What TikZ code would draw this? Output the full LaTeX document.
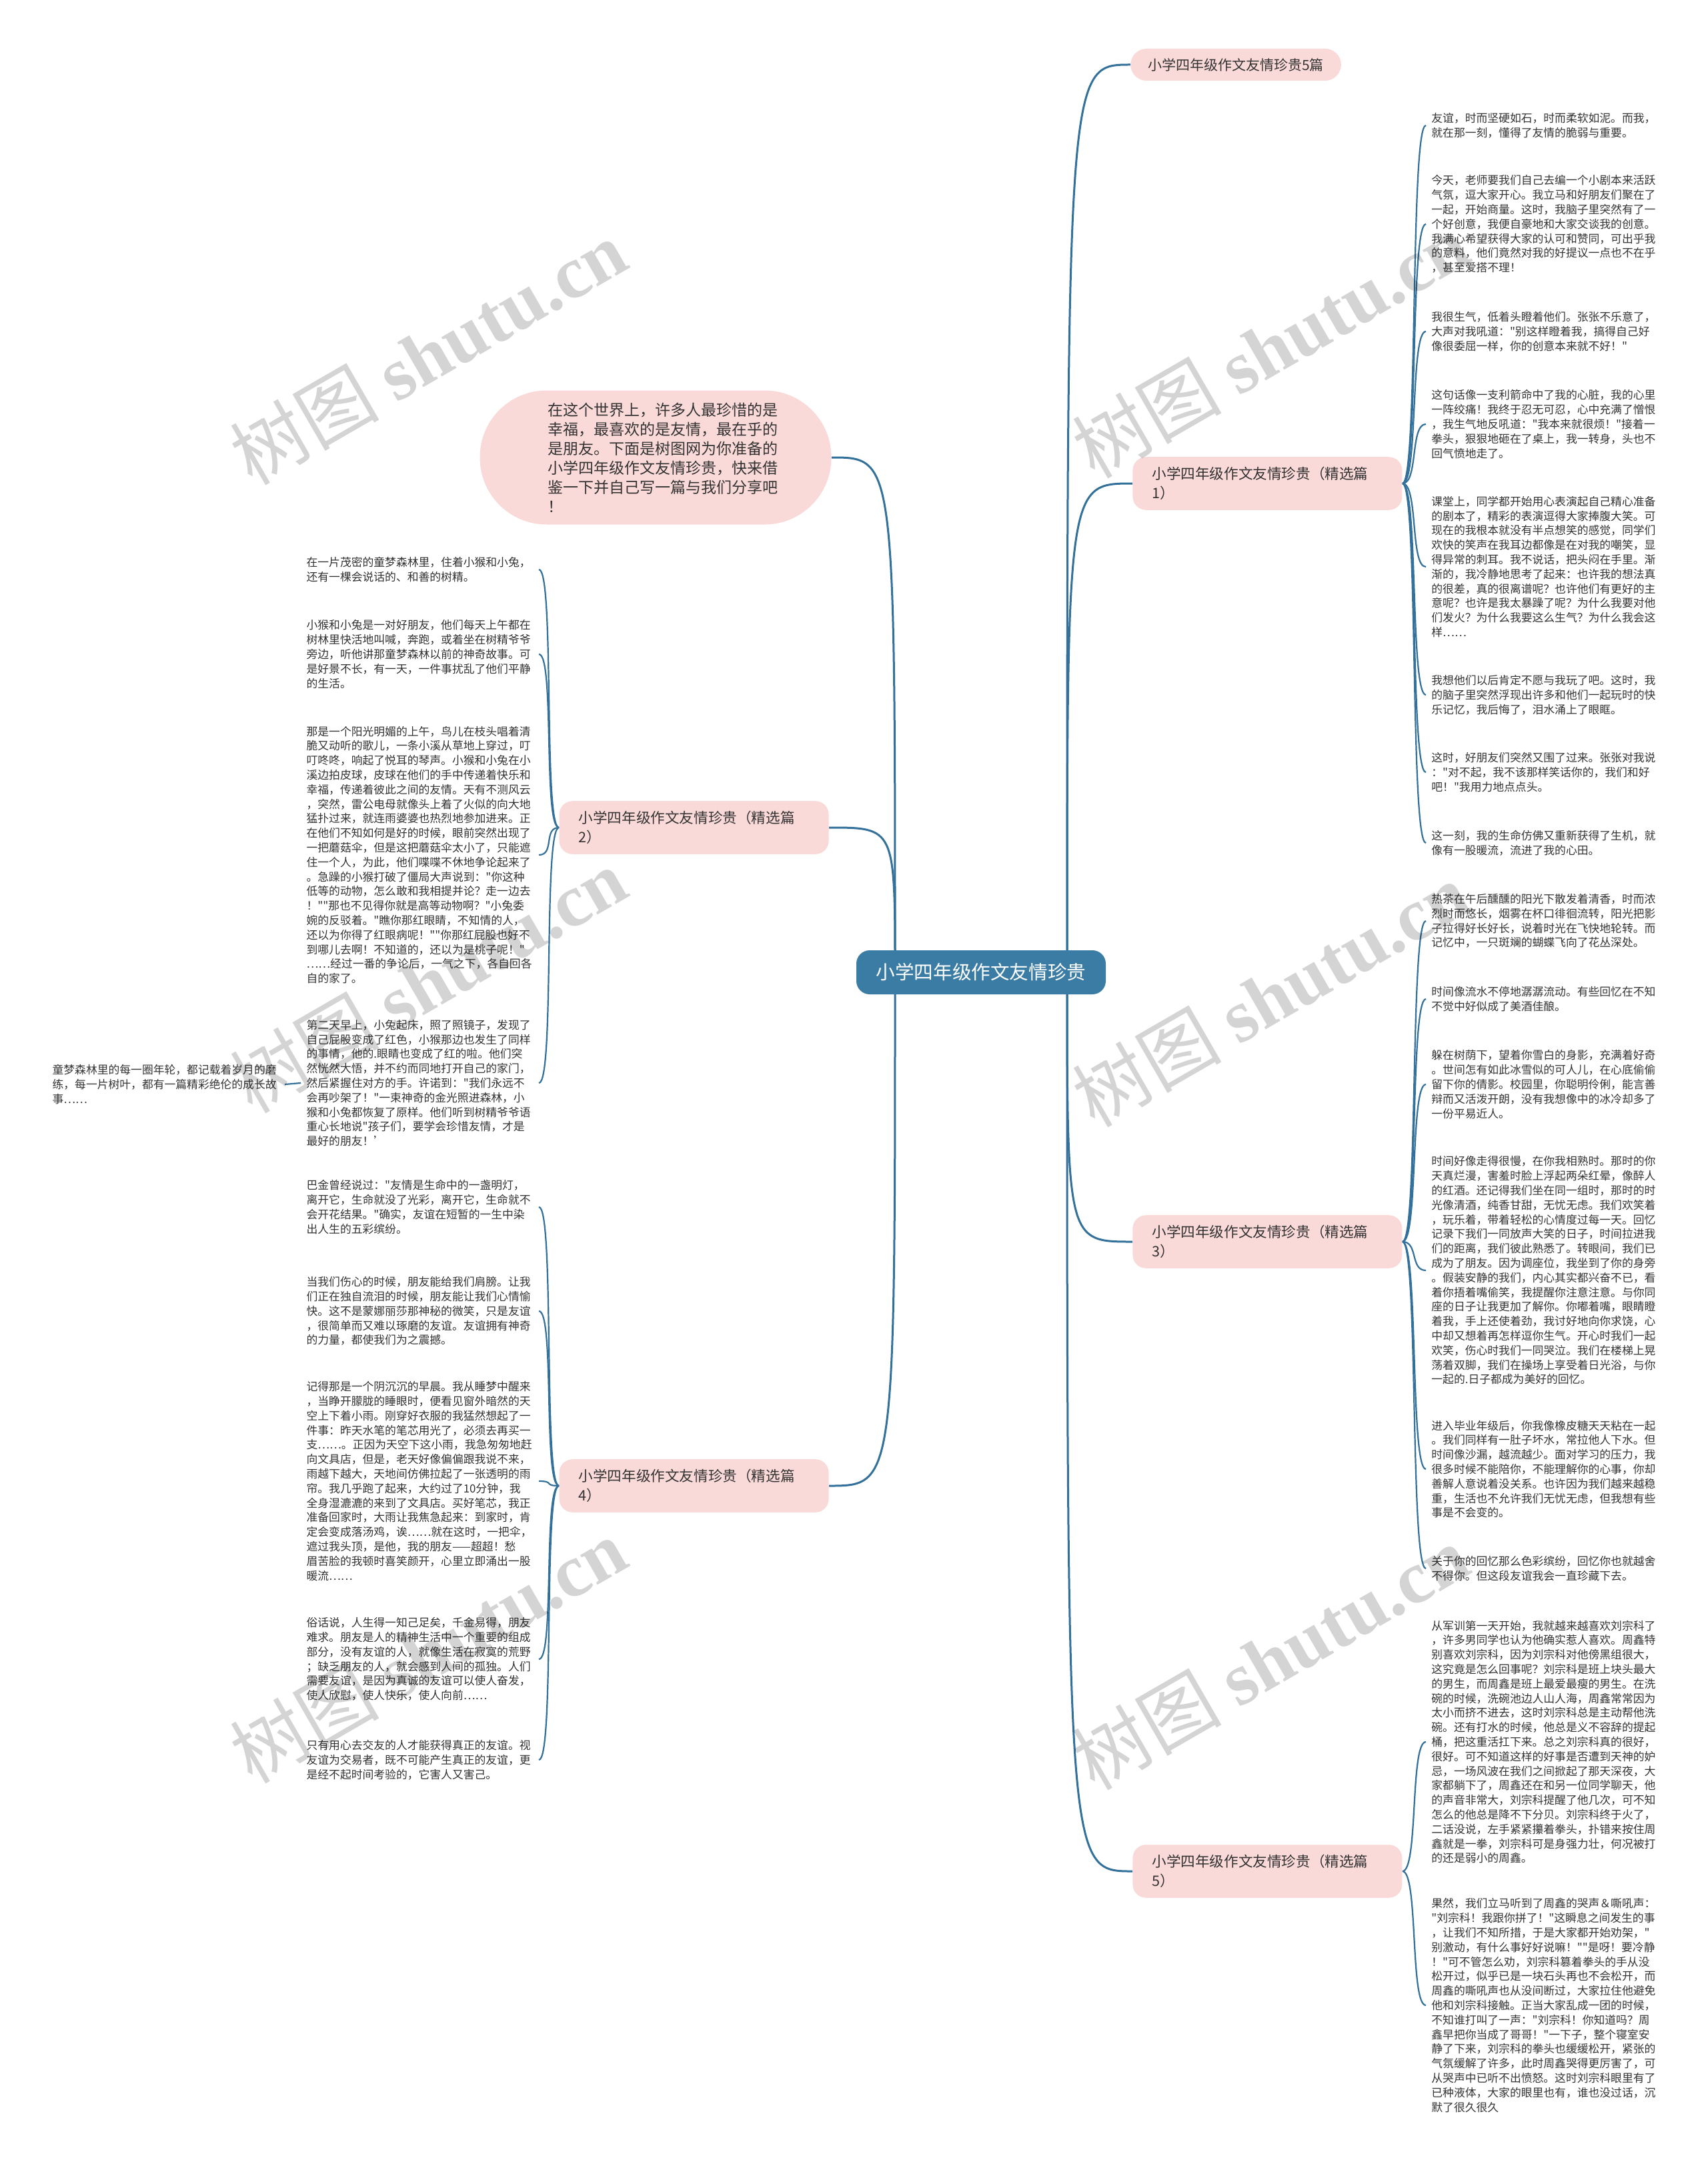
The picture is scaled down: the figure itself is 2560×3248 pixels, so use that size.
\documentclass[tikz,border=0pt]{standalone}
\usepackage{fontspec}
\setmainfont{Noto Sans CJK SC}[Ligatures=TeXOff]
\newfontfamily\markfont{Liberation Serif}
\usetikzlibrary{backgrounds}
\definecolor{rootblue}{HTML}{3B7CA4}
\definecolor{topicpink}{HTML}{FADAD8}
\definecolor{linkblue}{HTML}{33709A}
\definecolor{inktext}{HTML}{333333}
\tikzset{
    leafFont/.style={
        font=\fontsize{8.4}{10.9}\selectfont
    }
}

\begin{document}
\begin{tikzpicture}[
  x=0.5pt,
  y=-0.5pt,
  line cap=round,
  line join=round
]

% ---------- node styles ----------
\tikzset{
  rootNode/.style={fill=rootblue, text=white, rounded corners=10pt, minimum width=187pt, minimum height=33pt, inner sep=0pt, font=\fontsize{14.3}{17}\selectfont},
  topicNode/.style={fill=topicpink, text=inktext, rounded corners=10pt, text width=173pt, align=left, inner xsep=14.5pt, inner ysep=7.5pt, font=\fontsize{10.8}{14.5}\selectfont},
  pillNode/.style={fill=topicpink, text=inktext, rounded corners=12pt, minimum height=24pt, inner xsep=13pt, font=\fontsize{10.5}{13}\selectfont},
  introNode/.style={fill=topicpink, text=inktext, rounded corners=50pt, minimum width=263.5pt, minimum height=100.5pt, text width=162pt, align=left, font=\fontsize{11.5}{14.5}\selectfont},
  leafNode/.style={text=inktext, text width=170pt, align=left, inner xsep=4pt, inner ysep=2pt, leafFont},
  mainLink/.style={draw=linkblue, line width=1.5pt},
  leafLink/.style={draw=linkblue, line width=1.1pt},
  markText/.style={text=black, text opacity=0.17, rotate=30, font=\fontsize{56}{56}\selectfont}
}

\useasboundingbox (0,0) rectangle (2560,3248);

% ---------- centre and topics ----------
\node[rootNode] (root) at (1471,1458) {小学四年级作文友情珍贵};
\coordinate (rootR) at (1600,1458);
\coordinate (rootL) at (1342,1458);

\node[pillNode] (top5) at (1853,97) {小学四年级作文友情珍贵5篇};
\node[introNode] (intro) at (983,686) {在这个世界上，许多人最珍惜的是\\幸福，最喜欢的是友情，最在乎的\\是朋友。下面是树图网为你准备的\\小学四年级作文友情珍贵，快来借\\鉴一下并自己写一篇与我们分享吧\\！};

\node[topicNode, anchor=west] (p1) at (1698,725) {小学四年级作文友情珍贵（精选篇\\1）};
\node[topicNode, anchor=west] (p3) at (1698,1862) {小学四年级作文友情珍贵（精选篇\\3）};
\node[topicNode, anchor=west] (p5) at (1698,2806) {小学四年级作文友情珍贵（精选篇\\5）};
\node[topicNode, anchor=east] (p2) at (1243,1241) {小学四年级作文友情珍贵（精选篇\\2）};
\node[topicNode, anchor=east] (p4) at (1243,2228) {小学四年级作文友情珍贵（精选篇\\4）};

% ---------- leaves of 1 ----------
\node[leafNode, anchor=west] (p1a) at (2138,188) {友谊，时而坚硬如石，时而柔软如泥。而我，\\就在那一刻，懂得了友情的脆弱与重要。};
\node[leafNode, anchor=west] (p1b) at (2138,336) {今天，老师要我们自己去编一个小剧本来活跃\\气氛，逗大家开心。我立马和好朋友们聚在了\\一起，开始商量。这时，我脑子里突然有了一\\个好创意，我便自豪地和大家交谈我的创意。\\我满心希望获得大家的认可和赞同，可出乎我\\的意料，他们竟然对我的好提议一点也不在乎\\，甚至爱搭不理！};
\node[leafNode, anchor=west] (p1c) at (2138,497) {我很生气，低着头瞪着他们。张张不乐意了，\\大声对我吼道："别这样瞪着我，搞得自己好\\像很委屈一样，你的创意本来就不好！"};
\node[leafNode, anchor=west] (p1d) at (2138,636) {这句话像一支利箭命中了我的心脏，我的心里\\一阵绞痛！我终于忍无可忍，心中充满了憎恨\\，我生气地反吼道："我本来就很烦！"接着一\\拳头，狠狠地砸在了桌上，我一转身，头也不\\回气愤地走了。};
\node[leafNode, anchor=west] (p1e) at (2138,850) {课堂上，同学都开始用心表演起自己精心准备\\的剧本了，精彩的表演逗得大家捧腹大笑。可\\现在的我根本就没有半点想笑的感觉，同学们\\欢快的笑声在我耳边都像是在对我的嘲笑，显\\得异常的刺耳。我不说话，把头闷在手里。渐\\渐的，我冷静地思考了起来：也许我的想法真\\的很差，真的很离谱呢？也许他们有更好的主\\意呢？也许是我太暴躁了呢？为什么我要对他\\们发火？为什么我要这么生气？为什么我会这\\样……};
\node[leafNode, anchor=west] (p1f) at (2138,1042) {我想他们以后肯定不愿与我玩了吧。这时，我\\的脑子里突然浮现出许多和他们一起玩时的快\\乐记忆，我后悔了，泪水涌上了眼眶。};
\node[leafNode, anchor=west] (p1g) at (2138,1158) {这时，好朋友们突然又围了过来。张张对我说\\："对不起，我不该那样笑话你的，我们和好\\吧！"我用力地点点头。};
\node[leafNode, anchor=west] (p1h) at (2138,1264) {这一刻，我的生命仿佛又重新获得了生机，就\\像有一股暖流，流进了我的心田。};

% ---------- leaves of 3 ----------
\node[leafNode, anchor=west] (p3a) at (2138,1381) {热茶在午后醺醺的阳光下散发着清香，时而浓\\烈时而悠长，烟雾在杯口徘徊流转，阳光把影\\子拉得好长好长，说着时光在飞快地轮转。而\\记忆中，一只斑斓的蝴蝶飞向了花丛深处。};
\node[leafNode, anchor=west] (p3b) at (2138,1498) {时间像流水不停地潺潺流动。有些回忆在不知\\不觉中好似成了美酒佳酿。};
\node[leafNode, anchor=west] (p3c) at (2138,1626) {躲在树荫下，望着你雪白的身影，充满着好奇\\。世间怎有如此冰雪似的可人儿，在心底偷偷\\留下你的倩影。校园里，你聪明伶俐，能言善\\辩而又活泼开朗，没有我想像中的冰冷却多了\\一份平易近人。};
\node[leafNode, anchor=west] (p3d) at (2138,1905) {时间好像走得很慢，在你我相熟时。那时的你\\天真烂漫，害羞时脸上浮起两朵红晕，像醉人\\的红酒。还记得我们坐在同一组时，那时的时\\光像清酒，纯香甘甜，无忧无虑。我们欢笑着\\，玩乐着，带着轻松的心情度过每一天。回忆\\记录下我们一同放声大笑的日子，时间拉进我\\们的距离，我们彼此熟悉了。转眼间，我们已\\成为了朋友。因为调座位，我坐到了你的身旁\\。假装安静的我们，内心其实都兴奋不已，看\\着你捂着嘴偷笑，我提醒你注意注意。与你同\\座的日子让我更加了解你。你嘟着嘴，眼睛瞪\\着我，手上还使着劲，我讨好地向你求饶，心\\中却又想着再怎样逗你生气。开心时我们一起\\欢笑，伤心时我们一同哭泣。我们在楼梯上晃\\荡着双脚，我们在操场上享受着日光浴，与你\\一起的.日子都成为美好的回忆。};
\node[leafNode, anchor=west] (p3e) at (2138,2203) {进入毕业年级后，你我像橡皮糖天天粘在一起\\。我们同样有一肚子坏水，常拉他人下水。但\\时间像沙漏，越流越少。面对学习的压力，我\\很多时候不能陪你，不能理解你的心事，你却\\善解人意说着没关系。也许因为我们越来越稳\\重，生活也不允许我们无忧无虑，但我想有些\\事是不会变的。};
\node[leafNode, anchor=west] (p3f) at (2138,2352) {关于你的回忆那么色彩缤纷，回忆你也就越舍\\不得你。但这段友谊我会一直珍藏下去。};

% ---------- leaves of 5 ----------
\node[leafNode, anchor=west] (p5a) at (2138,2612) {从军训第一天开始，我就越来越喜欢刘宗科了\\，许多男同学也认为他确实惹人喜欢。周鑫特\\别喜欢刘宗科，因为刘宗科对他傍黑组很大，\\这究竟是怎么回事呢？刘宗科是班上块头最大\\的男生，而周鑫是班上最爱最瘦的男生。在洗\\碗的时候，洗碗池边人山人海，周鑫常常因为\\太小而挤不进去，这时刘宗科总是主动帮他洗\\碗。还有打水的时候，他总是义不容辞的提起\\桶，把这重活扛下来。总之刘宗科真的很好，\\很好。可不知道这样的好事是否遭到天神的妒\\忌，一场风波在我们之间掀起了那天深夜，大\\家都躺下了，周鑫还在和另一位同学聊天，他\\的声音非常大，刘宗科提醒了他几次，可不知\\怎么的他总是降不下分贝。刘宗科终于火了，\\二话没说，左手紧紧攥着拳头，扑错来按住周\\鑫就是一拳，刘宗科可是身强力壮，何况被打\\的还是弱小的周鑫。};
\node[leafNode, anchor=west] (p5b) at (2138,3007) {果然，我们立马听到了周鑫的哭声＆嘶吼声：\\"刘宗科！我跟你拼了！"这瞬息之间发生的事\\，让我们不知所措，于是大家都开始劝架，"\\别激动，有什么事好好说嘛！""是呀！要冷静\\！"可不管怎么劝，刘宗科篡着拳头的手从没\\松开过，似乎已是一块石头再也不会松开，而\\周鑫的嘶吼声也从没间断过，大家拉住他避免\\他和刘宗科接触。正当大家乱成一团的时候，\\不知谁打叫了一声："刘宗科！你知道吗？周\\鑫早把你当成了哥哥！"一下子，整个寝室安\\静了下来，刘宗科的拳头也缓缓松开，紧张的\\气氛缓解了许多，此时周鑫哭得更厉害了，可\\从哭声中已听不出愤怒。这时刘宗科眼里有了\\已种液体，大家的眼里也有，谁也没过话，沉\\默了很久很久};

% ---------- leaves of 2 ----------
\node[leafNode, anchor=east] (p2a) at (808,854) {在一片茂密的童梦森林里，住着小猴和小兔，\\还有一棵会说话的、和善的树精。};
\node[leafNode, anchor=east] (p2b) at (808,981) {小猴和小兔是一对好朋友，他们每天上午都在\\树林里快活地叫喊，奔跑，或着坐在树精爷爷\\旁边，听他讲那童梦森林以前的神奇故事。可\\是好景不长，有一天，一件事扰乱了他们平静\\的生活。};
\node[leafNode, anchor=east] (p2c) at (808,1282) {那是一个阳光明媚的上午，鸟儿在枝头唱着清\\脆又动听的歌儿，一条小溪从草地上穿过，叮\\叮咚咚，响起了悦耳的琴声。小猴和小兔在小\\溪边拍皮球，皮球在他们的手中传递着快乐和\\幸福，传递着彼此之间的友情。天有不测风云\\，突然，雷公电母就像头上着了火似的向大地\\猛扑过来，就连雨婆婆也热烈地参加进来。正\\在他们不知如何是好的时候，眼前突然出现了\\一把蘑菇伞，但是这把蘑菇伞太小了，只能遮\\住一个人，为此，他们喋喋不休地争论起来了\\。急躁的小猴打破了僵局大声说到："你这种\\低等的动物，怎么敢和我相提并论？走一边去\\！""那也不见得你就是高等动物啊？"小兔委\\婉的反驳着。"瞧你那红眼睛，不知情的人，\\还以为你得了红眼病呢！""你那红屁股也好不\\到哪儿去啊！不知道的，还以为是桃子呢！"\\……经过一番的争论后，一气之下，各自回各\\自的家了。};
\node[leafNode, anchor=east] (p2d) at (808,1624) {第二天早上，小兔起床，照了照镜子，发现了\\自己屁股变成了红色，小猴那边也发生了同样\\的事情，他的.眼睛也变成了红的啦。他们突\\然恍然大悟，并不约而同地打开自己的家门，\\然后紧握住对方的手。许诺到："我们永远不\\会再吵架了！"一束神奇的金光照进森林，小\\猴和小兔都恢复了原样。他们听到树精爷爷语\\重心长地说"孩子们，要学会珍惜友情，才是\\最好的朋友！’};
\node[leafNode, anchor=east] (p2x) at (427,1626) {童梦森林里的每一圈年轮，都记载着岁月的磨\\练，每一片树叶，都有一篇精彩绝伦的成长故\\事……};

% ---------- leaves of 4 ----------
\node[leafNode, anchor=east] (p4a) at (808,1810) {巴金曾经说过："友情是生命中的一盏明灯，\\离开它，生命就没了光彩，离开它，生命就不\\会开花结果。"确实，友谊在短暂的一生中染\\出人生的五彩缤纷。};
\node[leafNode, anchor=east] (p4b) at (808,1966) {当我们伤心的时候，朋友能给我们肩膀。让我\\们正在独自流泪的时候，朋友能让我们心情愉\\快。这不是蒙娜丽莎那神秘的微笑，只是友谊\\，很简单而又难以琢磨的友谊。友谊拥有神奇\\的力量，都使我们为之震撼。};
\node[leafNode, anchor=east] (p4c) at (808,2221) {记得那是一个阴沉沉的早晨。我从睡梦中醒来\\，当睁开朦胧的睡眼时，便看见窗外暗然的天\\空上下着小雨。刚穿好衣服的我猛然想起了一\\件事：昨天水笔的笔芯用光了，必须去再买一\\支……。正因为天空下这小雨，我急匆匆地赶\\向文具店，但是，老天好像偏偏跟我说不来，\\雨越下越大，天地间仿佛拉起了一张透明的雨\\帘。我几乎跑了起来，大约过了10分钟，我\\全身湿漉漉的来到了文具店。买好笔芯，我正\\准备回家时，大雨让我焦急起来：到家时，肯\\定会变成落汤鸡，诶……就在这时，一把伞，\\遮过我头顶，是他，我的朋友——超超！愁\\眉苦脸的我顿时喜笑颜开，心里立即涌出一股\\暖流……};
\node[leafNode, anchor=east] (p4d) at (808,2488) {俗话说，人生得一知己足矣，千金易得，朋友\\难求。朋友是人的精神生活中一个重要的组成\\部分，没有友谊的人，就像生活在寂寞的荒野\\；缺乏朋友的人，就会感到人间的孤独。人们\\需要友谊，是因为真诚的友谊可以使人奋发，\\使人欣慰，使人快乐，使人向前……};
\node[leafNode, anchor=east] (p4e) at (808,2639) {只有用心去交友的人才能获得真正的友谊。视\\友谊为交易者，既不可能产生真正的友谊，更\\是经不起时间考验的，它害人又害己。};

% ---------- connectors ----------
\begin{pgfonlayer}{background}
\fill[white] (0,0) rectangle (2560,3248);
\draw[mainLink] (rootR) .. controls (1600,97) .. (top5.west);
\draw[mainLink] (rootR) .. controls (1600,725) .. (p1.west);
\draw[mainLink] (rootR) .. controls (1600,1862) .. (p3.west);
\draw[mainLink] (rootR) .. controls (1600,2806) .. (p5.west);
\draw[mainLink] (rootL) .. controls (1342,686) .. (intro.east);
\draw[mainLink] (rootL) .. controls (1342,1241) .. (p2.east);
\draw[mainLink] (rootL) .. controls (1342,2228) .. (p4.east);
\foreach \leaf in {p1a,p1b,p1c,p1d,p1e,p1f,p1g,p1h}
  \draw[leafLink] (p1.east) .. controls +(24,0) and +(-24,0) .. (\leaf.west);
\foreach \leaf in {p3a,p3b,p3c,p3d,p3e,p3f}
  \draw[leafLink] (p3.east) .. controls +(24,0) and +(-24,0) .. (\leaf.west);
\foreach \leaf in {p5a,p5b}
  \draw[leafLink] (p5.east) .. controls +(24,0) and +(-24,0) .. (\leaf.west);
\foreach \leaf in {p2a,p2b,p2c,p2d}
  \draw[leafLink] (p2.west) .. controls +(-24,0) and +(24,0) .. (\leaf.east);
\foreach \leaf in {p4a,p4b,p4c,p4d,p4e}
  \draw[leafLink] (p4.west) .. controls +(-24,0) and +(24,0) .. (\leaf.east);
\draw[leafLink] (p2d.west) -- (p2x.east);
\end{pgfonlayer}

% ---------- watermark ----------
\foreach \mx/\my in {642/528, 1905/518, 642/1470, 1905/1491, 642/2475, 1905/2485}
  \node[markText] at (\mx,\my) {树图 {\markfont\bfseries shutu.cn}};

\end{tikzpicture}
\end{document}
